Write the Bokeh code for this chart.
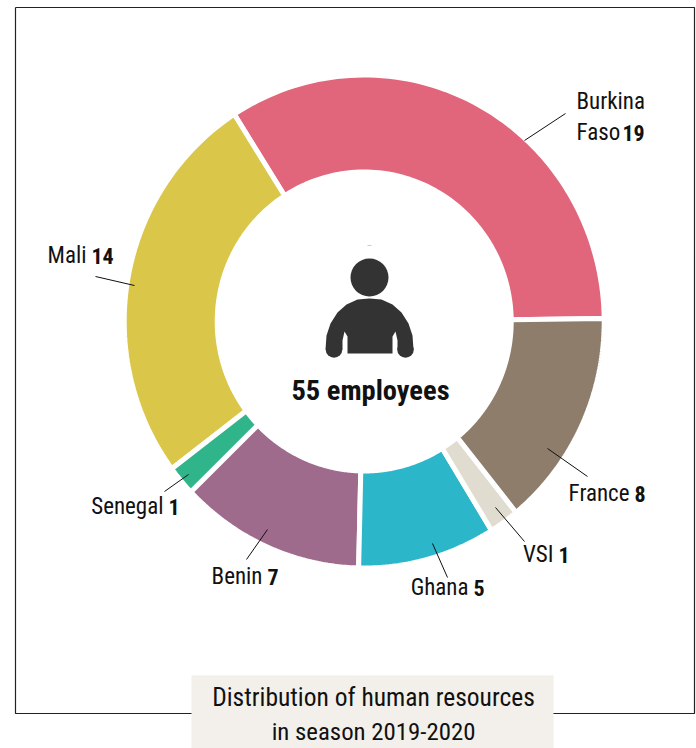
from bokeh.plotting import figure
from bokeh.embed import file_html
from bokeh.resources import INLINE
from bokeh.core.properties import value
import numpy as np

categories = ["Burkina Faso", "Mali", "Senegal", "Benin", "Ghana", "VSI", "France"]
employees = [19, 14, 1, 7, 5, 1, 8]
# Arc sizes: the reference's arcs are not exactly proportional to the printed counts.
arc_sizes = [18.65, 14.35, 1.08, 6.86, 5.1, 1.1, 7.86]
colors = ["#e1667c", "#dac648", "#30b48a", "#9f6b8c", "#2cb6ca", "#e1dcd0", "#8f7d6c"]

CX, CY, RX, RY, IX, IY = 363.7, 321, 240, 246.5, 147, 149.5
START_DEG = 0.7
FONT = "Roboto Condensed"
INK = "#111111"

p = figure(width=696, height=748, x_range=(0, 696), y_range=(748, 0), output_backend="svg",
           toolbar_location=None, min_border=0, outline_line_color=None)
p.xaxis.visible = False
p.yaxis.visible = False
p.grid.visible = False

# frame
p.line([15, 15, 694, 694, 15], [7, 713, 713, 7, 7], line_color="#222222", line_width=1.2)

# ring
total = sum(arc_sizes)
start = START_DEG
for v, c in zip(arc_sizes, colors):
    a = np.radians(np.linspace(start, start + v / total * 360, 80))
    start += v / total * 360
    xs = np.r_[CX + RX * np.cos(a), CX + IX * np.cos(a[::-1])]
    ys = np.r_[CY - RY * np.sin(a), CY - IY * np.sin(a[::-1])]
    p.patch(xs, ys, fill_color=c, line_color="white", line_width=5)

# leaders
leaders = [((524, 140), (565, 113)), ((95, 276), (134, 285)), ((164, 491), (188, 474)),
           ((246, 559), (267, 529)), ((432, 543), (447, 577)), ((495, 507), (524, 541)),
           ((547, 448), (587, 476))]
for a, b in leaders:
    p.line([a[0], b[0]], [a[1], b[1]], line_color="#111111", line_width=1)

count = dict(zip(categories, employees))
# labels: name, x of split, baseline
labels = [("Mali", 86, 255), ("Senegal", 163, 506), ("Benin", 262, 576),
          ("Ghana", 468, 587), ("VSI", 553, 554), ("France", 629, 493)]
FS = "23px"
NS = "22px"
def txt(x, y, t, align="left", bold=False, size=FS):
    p.text([x], [y], text=[t], text_font=value(FONT), text_font_size=size, text_color=INK,
           text_align=align, text_baseline="alphabetic", text_font_style="bold" if bold else "normal")
for n, x, y in labels:
    txt(x, y, n, "right")
    txt(x + 5, y, str(count[n]), "left", True, NS)
txt(576, 101, "Burkina")
txt(576, 132, "Faso")
txt(622, 132, str(count["Burkina Faso"]), "left", True, NS)

# person icon
p.line([367, 371], [245, 245], line_color="#cccccc", line_width=1)
p.circle([369], [277], radius=19, fill_color="#333333", line_color=None)
bx = [347, 347, 344, 342, 342, 325, 326, 330, 337, 346, 357, 369, 381, 392, 401, 408, 412, 413, 397, 397, 395, 392, 392]
by = [353, 336, 331, 340, 349, 349, 335, 323, 312, 304, 299, 298, 299, 304, 312, 323, 335, 349, 349, 340, 331, 336, 353]
p.patch(bx, by, fill_color="#333333", line_color=None)
p.circle([333.5, 405], [349, 349], radius=8.3, fill_color="#333333", line_color=None)

txt(370, 390, "55 employees", "center", True, "28.5px")

# caption
p.quad(left=[191], right=[553], top=[675], bottom=[748], fill_color="#f3f0eb", line_color=None)
txt(373, 696, "Distribution of human resources", "center", False, "25.5px")
txt(373, 731, "in season 2019-2020", "center", False, "24.8px")

open("out.html", "w").write(file_html(p, INLINE))
